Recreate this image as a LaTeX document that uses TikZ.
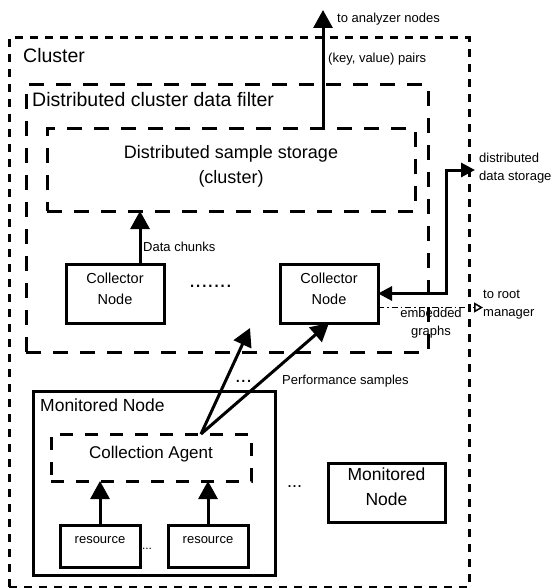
\documentclass[tikz,border=0pt]{standalone}
\usepackage{fontspec}
\setmainfont{Liberation Sans}
\usepackage{tikz}
\usetikzlibrary{calc, positioning, arrows.meta}

\begin{document}
\begin{tikzpicture}[x=1pt, y=-1pt, node distance=28pt,
  box/.style={draw, line width=3pt, inner sep=0pt, outer sep=0pt, align=center, text depth=10.5pt},
  zone/.style={box, dash pattern=on 15pt off 12pt},
  title/.style={anchor=base west, inner sep=0pt},
  lbl/.style={inner sep=0pt, align=left, font=\fontsize{13}{18}\selectfont},
  arr/.style={-{Triangle[length=18pt, width=19pt]}, line width=3pt},
  darr/.style={{Triangle[length=14pt, width=14pt]}-{Triangle[length=14pt, width=14pt]}, line width=3pt},
  dotarr/.style={-{Triangle[open, length=9pt, width=10pt]}, line width=1.5pt, dash pattern=on 6pt off 3pt on 1.5pt off 3pt}]
\useasboundingbox (0,0) rectangle (554,588);
% frames %
\node[box, dash pattern=on 8pt off 7pt, minimum width=460pt, minimum height=549pt] (cl) at (239,312.5) {};
\node[title, font=\fontsize{19.5}{24}\selectfont] (clt) at (23,63) {Cluster};
\node[zone, minimum width=402pt, minimum height=267pt] (fl) at (227,218.5) {};
\node[title, font=\fontsize{19.5}{24}\selectfont] (flt) at (32,107) {Distributed cluster data filter};
\node[zone, text depth=12pt, minimum width=368pt, minimum height=82pt, font=\fontsize{18}{25}\selectfont] (st) at (231,170) {Distributed sample storage\\(cluster)};
% collectors %
\node[box, minimum width=98pt, minimum height=59pt, font=\fontsize{14.5}{21}\selectfont] (c1) at (115,293.5) {Collector\\Node};
\node[box, right=116pt of c1, minimum width=98pt, minimum height=59pt, font=\fontsize{14.5}{21}\selectfont] (c2) {Collector\\Node};
\node[anchor=base, inner sep=0pt, font=\fontsize{22}{24}\selectfont] (cdots) at (210.5,287) {.......};
% monitored nodes %
\node[box, minimum width=242pt, minimum height=184pt] (mn) at (154,483) {};
\node[title, font=\fontsize{17.5}{24}\selectfont] (mnt) at (40,411) {Monitored Node};
\node[zone, dash pattern=on 13pt off 12pt, text depth=9.5pt, minimum width=200pt, minimum height=47pt, font=\fontsize{17}{24}\selectfont] (ag) at (151,457.5) {Collection Agent};
\node[box, text depth=11.5pt, minimum width=80pt, minimum height=42pt, font=\fontsize{13}{18}\selectfont] (r1) at (100,546) {resource};
\node[box, right=of r1, text depth=11.5pt, minimum width=80pt, minimum height=42pt, font=\fontsize{13}{18}\selectfont] (r2) {resource};
\node[anchor=base, inner sep=0pt, font=\fontsize{12}{14}\selectfont] (rdots) at (147,549) {...};
\node[box, text depth=12.5pt, minimum width=117pt, minimum height=59pt, font=\fontsize{17.5}{25}\selectfont] (mn2) at (386.5,492.5) {Monitored\\Node};
\node[anchor=base, inner sep=0pt, font=\fontsize{18}{20}\selectfont] (mdots) at (294.5,487) {...};
% labels %
\coordinate (an) at (323,10);
\coordinate (ds) at (475,170);
\coordinate (rm) at (483,307.5);
\coordinate (more) at (250,328);
\node[lbl, anchor=base west] (ant) at (337,23) {to analyzer nodes};
\node[lbl, anchor=base west] (kv) at (328,63) {(key, value) pairs};
\node[lbl, anchor=base west] (dc) at (143,251) {Data chunks};
\node[lbl, anchor=north west] (dst) at (479,152.5) {distributed\\data storage};
\node[lbl, anchor=north west] (rmt) at (483,289.5) {to root\\manager};
\node[lbl, anchor=north, align=center] (eg) at (431,307.5) {embedded\\graphs};
\node[lbl, anchor=base west] (ps) at (282,384) {Performance samples};
\node[anchor=base, inner sep=0pt, font=\fontsize{20}{22}\selectfont] (pdots) at (243.5,382) {...};
% edges %
\draw[arr] (an |- st.north) -- (an);
\draw[arr] ([xshift=25pt]c1.north) -- ([xshift=25pt]c1.north |- st.south);
\draw[darr] (c2.east) -- ++(68,0) |- (ds);
\draw[dotarr] (c2.east |- rm) -- (rm);
\draw[arr] ([xshift=50pt]ag.north) -- (more);
\draw[arr] ([xshift=50pt]ag.north) -- (c2.south);
\draw[arr] (r1) -- (r1 |- ag.south);
\draw[arr] (r2) -- (r2 |- ag.south);
\end{tikzpicture}
\end{document}
